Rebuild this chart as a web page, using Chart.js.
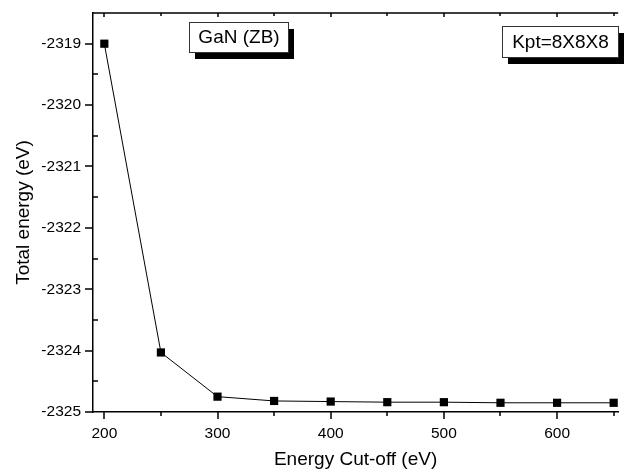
<!DOCTYPE html>
<html>
<head>
<meta charset="utf-8">
<script src="https://cdn.jsdelivr.net/npm/chart.js@4.4.1/dist/chart.umd.min.js"></script>
<style>
  html, body { margin: 0; padding: 0; background: #fff; overflow: hidden; }
  #wrap { width: 624px; height: 474px; }
</style>
</head>
<body>
<div id="wrap"><canvas id="cutoffChart"></canvas></div>
<script>
// Energy cut-off convergence, GaN (ZB)
const cutoffs = [200, 250, 300, 350, 400, 450, 500, 550, 600, 650];
const totalEnergy = [-2319.0, -2324.03, -2324.75, -2324.82, -2324.83, -2324.84, -2324.84, -2324.85, -2324.85, -2324.85];

const xTicks = [200, 300, 400, 500, 600];
const xMinorTicks = [250, 350, 450, 550, 650];
const yTicks = [-2325, -2324, -2323, -2322, -2321, -2320, -2319];
const yMinorTicks = [-2324.5, -2323.5, -2322.5, -2321.5, -2320.5, -2319.5, -2318.5];

const labelBoxes = [
    { text: 'GaN (ZB)', x: 189, y: 22, w: 99, h: 30 },
    { text: 'Kpt=8X8X8', x: 502, y: 26, w: 116, h: 31 }
];

const fontFamily = '"Liberation Sans", Arial, sans-serif';

// tick marks, top frame line and the two text boxes
const framePlugin = {
    id: 'frame',
    afterDraw(chart) {
        const c = chart.ctx;
        const a = chart.chartArea;
        const xs = chart.scales.x, ys = chart.scales.y;
        c.save();
        c.strokeStyle = '#000';
        c.lineWidth = 1.5;
        c.beginPath();
        c.moveTo(a.left, a.top);
        c.lineTo(a.right, a.top);
        // y major ticks (outside) and minor ticks (inside)
        yTicks.forEach(function(v) {
            const py = Math.round(ys.getPixelForValue(v));
            c.moveTo(a.left - 8, py);
            c.lineTo(a.left, py);
        });
        yMinorTicks.forEach(function(v) {
            const py = Math.round(ys.getPixelForValue(v));
            c.moveTo(a.left, py);
            c.lineTo(a.left + 5, py);
        });
        // x ticks, bottom and top
        xTicks.forEach(function(v) {
            const px = Math.round(xs.getPixelForValue(v));
            c.moveTo(px, a.bottom);
            c.lineTo(px, a.bottom + 7);
            c.moveTo(px, a.top);
            c.lineTo(px, a.top + 4);
        });
        xMinorTicks.forEach(function(v) {
            const px = Math.round(xs.getPixelForValue(v));
            c.moveTo(px, a.bottom);
            c.lineTo(px, a.bottom + 4);
            c.moveTo(px, a.top);
            c.lineTo(px, a.top + 3);
        });
        c.stroke();

        labelBoxes.forEach(function(b) {
            c.fillStyle = '#000';
            c.fillRect(b.x + 6, b.y + 7, b.w, b.h);
            c.fillStyle = '#fff';
            c.fillRect(b.x, b.y, b.w, b.h);
            c.lineWidth = 1;
            c.strokeStyle = '#333';
            c.strokeRect(b.x + 0.5, b.y + 0.5, b.w, b.h);
            c.fillStyle = '#000';
            c.font = '19px ' + fontFamily;
            c.textAlign = 'center';
            c.textBaseline = 'middle';
            c.fillText(b.text, b.x + b.w / 2 + 0.5, b.y + b.h / 2 + 1);
        });
        c.restore();
    }
};

const ctx = document.getElementById('cutoffChart').getContext('2d');
const cutoffChart = new Chart(ctx, {
    type: 'line',
    data: {
        datasets: [{
            label: 'Total energy',
            data: cutoffs.map(function(x, i) { return { x: x, y: totalEnergy[i] }; }),
            borderColor: '#000',
            borderWidth: 1,
            backgroundColor: '#000',
            pointStyle: 'rect',
            pointRadius: 5.8,
            pointBorderWidth: 0,
            fill: false,
            tension: 0,
            clip: false
        }]
    },
    options: {
        responsive: true,
        maintainAspectRatio: false,
        animation: false,
        layout: { padding: { left: 12, right: 0, top: 13, bottom: 0 } },
        plugins: {
            legend: { display: false },
            tooltip: { enabled: false }
        },
        scales: {
            x: {
                type: 'linear',
                min: 190,
                max: 654,
                afterBuildTicks: function(scale) {
                    scale.ticks = xTicks.map(function(v) { return { value: v }; });
                },
                afterFit: function(scale) {
                    scale.height = 62;
                    scale.paddingLeft = 0;
                    scale.paddingRight = 0;
                },
                grid: { display: false, drawTicks: false },
                border: { display: true, color: '#000', width: 1.5 },
                ticks: {
                    color: '#000',
                    padding: 12,
                    maxRotation: 0,
                    font: { family: fontFamily, size: 15.5 },
                    callback: function(v) { return String(v); }
                },
                title: {
                    display: true,
                    text: 'Energy Cut-off (eV)',
                    color: '#000',
                    padding: { top: 0, bottom: 3 },
                    font: { family: fontFamily, size: 19 }
                }
            },
            y: {
                type: 'linear',
                min: -2325,
                max: -2318.5,
                afterBuildTicks: function(scale) {
                    scale.ticks = yTicks.map(function(v) { return { value: v }; });
                },
                afterFit: function(scale) {
                    scale.width = 81;
                    scale.paddingTop = 0;
                    scale.paddingBottom = 0;
                },
                grid: { display: false, drawTicks: false },
                border: { display: true, color: '#000', width: 1.5 },
                ticks: {
                    color: '#000',
                    padding: 12,
                    font: { family: fontFamily, size: 15.5 },
                    callback: function(v) { return String(v); }
                },
                title: {
                    display: true,
                    text: 'Total energy (eV)',
                    color: '#000',
                    padding: { top: 0, bottom: 0 },
                    font: { family: fontFamily, size: 19 }
                }
            }
        }
    },
    plugins: [framePlugin]
});
</script>
</body>
</html>
